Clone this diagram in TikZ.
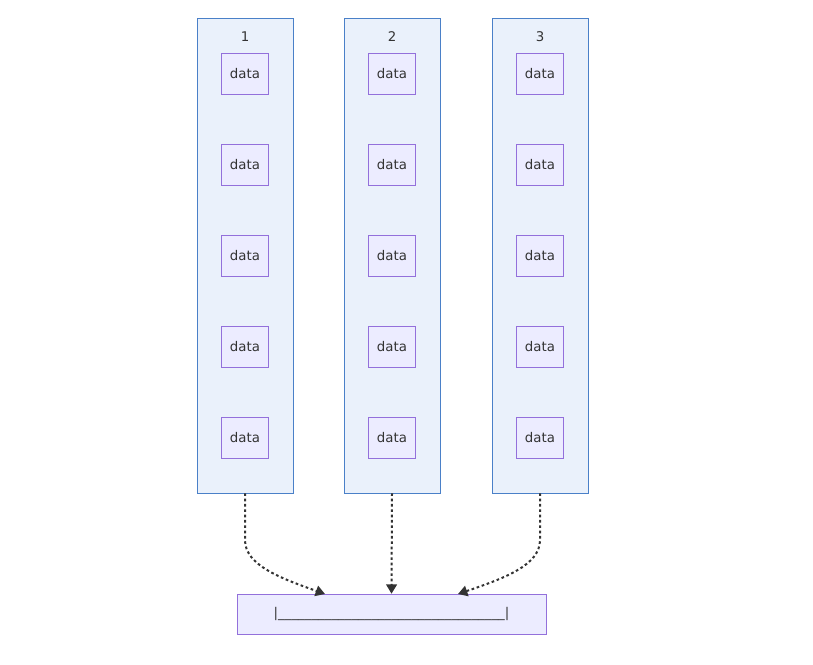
\documentclass[tikz,border=0pt]{standalone}
\usepackage{fontspec}
\setmainfont{DejaVu Sans}
\usetikzlibrary{arrows.meta}
\definecolor{clfill}{HTML}{EAF1FB}
\definecolor{clline}{HTML}{4A80C8}
\definecolor{ndfill}{HTML}{ECECFF}
\definecolor{ndline}{HTML}{9370DB}
\definecolor{edge}{HTML}{333333}
\tikzset{
  cluster/.style={draw=clline,fill=clfill,minimum width=96\px,minimum height=475\px,inner sep=0pt},
  datum/.style={draw=ndline,fill=ndfill,minimum width=47\px,minimum height=41\px,inner sep=0pt,font=\fontsize{10}{12}\selectfont,text=edge},
  title/.style={font=\fontsize{10}{12}\selectfont,text=edge},
  flow/.style={draw=edge,line width=1.5pt,dash pattern=on 2pt off 2pt,-{Triangle[length=7pt,width=8pt]}}
}
\newlength{\px}\setlength{\px}{0.75pt}
\begin{document}
\begin{tikzpicture}[x=0.75pt,y=-0.75pt]
  \useasboundingbox (0,0) rectangle (813,664);
  % Clusters with data nodes
  \foreach \c/\x in {1/245,2/392,3/540}{
    \node[cluster] (cl\c) at (\x,255.5) {};
    \node[title] at (\x,37) {\c};
    \foreach \r/\y in {1/74,2/165,3/256,4/347,5/438}
      \node[datum] (d\c\r) at (\x,\y) {data};
  }
  % Sink
  \node[draw=ndline,fill=ndfill,minimum width=309\px,minimum height=40\px,inner sep=0pt,
    font=\fontsize{10}{12}\selectfont,text=edge] (sink) at (391.5,614)
    {|\_\_\_\_\_\_\_\_\_\_\_\_\_\_\_\_\_\_\_\_\_\_\_\_\_\_\_\_\_\_\_\_\_\_|};
  \coordinate (sl) at (325,594);
  \coordinate (sr) at (458,594);
  % Edges
  \draw[flow] (cl1.south) -- (245,540) .. controls (245,565) and (280,578) .. (sl);
  \draw[flow] (cl2.south) -- (sink.north);
  \draw[flow] (cl3.south) -- (540,540) .. controls (540,565) and (505,578) .. (sr);
\end{tikzpicture}
\end{document}
